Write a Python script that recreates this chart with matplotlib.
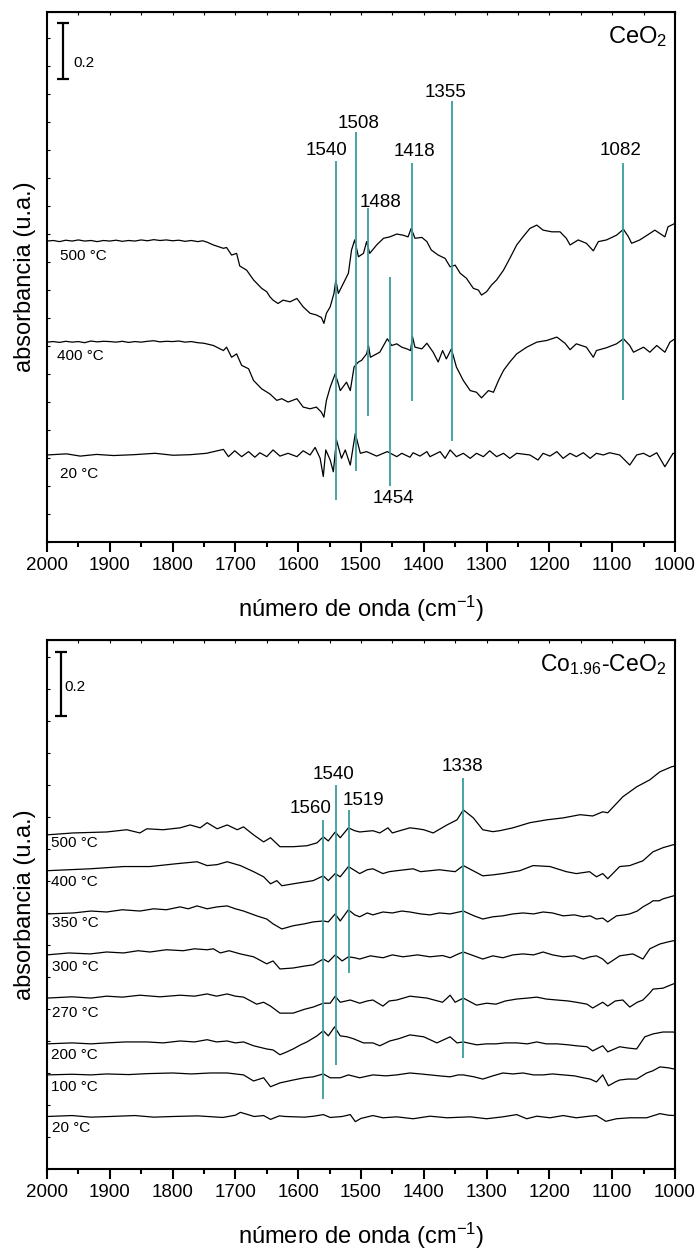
import numpy as np
import matplotlib
matplotlib.use("Agg")
import matplotlib.pyplot as plt
from matplotlib.ticker import MultipleLocator

plt.rcParams["font.family"] = ["Liberation Sans", "DejaVu Sans"]
plt.rcParams["mathtext.fontset"] = "custom"
plt.rcParams["mathtext.rm"] = "Liberation Sans"
plt.rcParams["mathtext.it"] = "Liberation Sans:italic"
plt.rcParams["mathtext.bf"] = "Liberation Sans:bold"

# ---------------------------------------------------------------- CeO2 spectra
# (wavenumber cm-1, absorbance relative to each trace's baseline)
ceo2_labels = ["500 °C", "400 °C", "20 °C"]
ceo2_offsets = [1.075, 0.714, 0.311]

ceo2_wn_500 = [2000, 1990, 1980, 1970, 1960, 1950, 1940, 1930, 1920, 1910, 1900, 1890, 1880, 1870,
               1860, 1850, 1840, 1830, 1820, 1810, 1800, 1790, 1780, 1770, 1760, 1752, 1745, 1735,
               1719, 1714, 1706, 1698, 1693, 1682, 1671, 1658, 1650, 1645, 1640, 1632, 1624, 1613,
               1602, 1592, 1581, 1571, 1563, 1559, 1555, 1549, 1543, 1540, 1536, 1528, 1520, 1515,
               1510, 1504, 1496, 1491, 1486, 1475, 1464, 1454, 1443, 1433, 1425, 1420, 1414, 1403,
               1395, 1388, 1377, 1366, 1358, 1350, 1342, 1332, 1321, 1313, 1308, 1300, 1292, 1284,
               1273, 1263, 1252, 1242, 1231, 1220, 1210, 1196, 1183, 1173, 1167, 1154, 1141, 1130,
               1122, 1109, 1093, 1082, 1074, 1069, 1056, 1040, 1032, 1024, 1016, 1011, 1000]
ceo2_ab_500 = [0.0, 0.002, -0.002, 0.003, 0.0, 0.004, 0.0, 0.002, -0.002, 0.002, 0.0, 0.003, -0.001, 0.002,
               0.0, 0.004, 0.001, 0.005, 0.002, 0.004, 0.001, 0.003, -0.001, 0.002, -0.002, 0.001, -0.004, -0.014,
               -0.026, -0.023, -0.050, -0.044, -0.089, -0.104, -0.139, -0.169, -0.181, -0.199, -0.211, -0.223, -0.211, -0.217,
               -0.205, -0.235, -0.258, -0.264, -0.273, -0.294, -0.258, -0.235, -0.187, -0.139, -0.187, -0.151, -0.115, -0.032,
               0.004, -0.056, -0.044, -0.002, -0.044, -0.014, 0.010, 0.015, 0.025, 0.021, 0.015, 0.045, 0.010, 0.013,
               -0.002, -0.032, -0.050, -0.062, -0.092, -0.086, -0.115, -0.133, -0.169, -0.175, -0.193, -0.181, -0.157, -0.139,
               -0.104, -0.062, -0.014, 0.015, 0.045, 0.057, 0.039, 0.033, 0.033, 0.010, -0.014, 0.004, -0.008, -0.035,
               -0.002, 0.004, 0.021, 0.042, 0.015, -0.008, 0.004, 0.027, 0.039, 0.027, 0.015, 0.051, 0.063]

ceo2_wn_400 = [2000, 1990, 1980, 1970, 1960, 1950, 1940, 1930, 1920, 1910, 1900, 1890, 1880, 1870,
               1860, 1850, 1840, 1830, 1820, 1810, 1800, 1790, 1780, 1770, 1760, 1750, 1735, 1719,
               1714, 1706, 1698, 1690, 1679, 1671, 1658, 1645, 1634, 1626, 1616, 1602, 1592, 1581,
               1571, 1563, 1559, 1555, 1549, 1541, 1536, 1533, 1523, 1517, 1511, 1504, 1499, 1491,
               1488, 1485, 1470, 1458, 1451, 1443, 1435, 1427, 1421, 1418, 1414, 1403, 1395, 1385,
               1377, 1370, 1364, 1356, 1348, 1337, 1326, 1316, 1308, 1297, 1289, 1281, 1273, 1263,
               1252, 1236, 1220, 1204, 1188, 1175, 1167, 1157, 1141, 1130, 1125, 1109, 1093, 1082,
               1072, 1066, 1050, 1040, 1029, 1016, 1008, 1000]
ceo2_ab_400 = [0.0, 0.002, -0.001, 0.003, 0.0, 0.002, -0.002, 0.004, 0.001, 0.003, 0.002, 0.0, 0.003, -0.001,
               0.002, 0.0, 0.003, 0.005, 0.001, 0.003, 0.002, 0.004, 0.0, 0.002, -0.002, -0.004, -0.012, -0.030,
               -0.018, -0.054, -0.042, -0.083, -0.095, -0.137, -0.167, -0.185, -0.208, -0.202, -0.214, -0.202, -0.232, -0.238,
               -0.232, -0.250, -0.268, -0.208, -0.161, -0.113, -0.149, -0.173, -0.143, -0.173, -0.089, -0.071, -0.065, -0.042,
               -0.012, -0.054, -0.036, 0.012, -0.012, -0.006, -0.018, -0.024, -0.030, 0.020, -0.018, -0.024, -0.004, -0.036,
               -0.071, -0.030, -0.060, -0.024, -0.089, -0.137, -0.173, -0.179, -0.199, -0.173, -0.179, -0.137, -0.101, -0.071,
               -0.042, -0.018, 0.0, 0.006, 0.018, -0.004, -0.027, -0.006, -0.018, -0.054, -0.030, -0.020, -0.006, 0.012,
               -0.012, -0.036, -0.018, -0.036, -0.012, -0.036, 0.0, 0.012]

ceo2_wn_20 = [2000, 1969, 1947, 1921, 1894, 1862, 1828, 1799, 1772, 1746, 1719, 1711, 1701, 1690,
              1679, 1669, 1661, 1650, 1640, 1629, 1616, 1602, 1592, 1581, 1573, 1565, 1560, 1556,
              1549, 1544, 1539, 1531, 1525, 1517, 1509, 1501, 1491, 1475, 1458, 1443, 1435, 1422,
              1417, 1406, 1395, 1390, 1374, 1366, 1358, 1348, 1337, 1326, 1316, 1305, 1295, 1284,
              1273, 1263, 1252, 1231, 1218, 1210, 1199, 1188, 1178, 1167, 1157, 1146, 1135, 1125,
              1114, 1104, 1088, 1072, 1061, 1050, 1040, 1029, 1016, 1003, 1000]
ceo2_ab_20 = [0.0, 0.004, -0.004, 0.002, -0.002, 0.001, 0.006, -0.001, 0.001, 0.006, 0.020, -0.006, 0.015, -0.006,
              0.012, -0.008, 0.008, -0.006, 0.018, -0.004, 0.006, -0.006, 0.015, 0.0, 0.027, -0.012, -0.077, 0.018,
              -0.018, -0.060, 0.054, -0.012, 0.018, -0.036, 0.077, 0.006, 0.012, -0.004, 0.012, -0.006, 0.006, -0.008,
              0.008, -0.004, 0.012, -0.006, 0.012, -0.012, 0.018, -0.006, 0.006, -0.012, 0.006, -0.006, 0.015, -0.006,
              0.006, -0.012, 0.006, 0.0, -0.018, 0.006, -0.004, 0.012, -0.012, 0.006, -0.006, 0.008, -0.012, 0.006,
              0.0, 0.008, 0.0, -0.036, 0.0, 0.006, -0.006, 0.008, -0.042, 0.006, 0.004]

ceo2_bands = [1540, 1508, 1488, 1418, 1355, 1082, 1454]
ceo2_band_lo = [0.149, 0.254, 0.450, 0.504, 0.361, 0.509, 0.201]
ceo2_band_hi = [1.362, 1.464, 1.193, 1.355, 1.575, 1.355, 0.946]

# ------------------------------------------------------------ Co1.96-CeO2 spectra
co_labels = ["500 °C", "400 °C", "350 °C", "300 °C", "270 °C", "200 °C", "100 °C", "20 °C"]
co_offsets = [1.044, 0.932, 0.797, 0.669, 0.534, 0.391, 0.294, 0.164]

co_wn_500 = [2000, 1958, 1905, 1873, 1852, 1841, 1815, 1788, 1772, 1756, 1745, 1729, 1713, 1697,
             1687, 1671, 1655, 1644, 1629, 1608, 1586, 1570, 1560, 1552, 1541, 1533, 1520, 1510,
             1502, 1492, 1481, 1470, 1457, 1450, 1438, 1422, 1410, 1400, 1385, 1363, 1347, 1337,
             1321, 1306, 1290, 1279, 1258, 1231, 1204, 1178, 1151, 1131, 1115, 1107, 1083, 1061,
             1040, 1024, 1005, 1000]
co_ab_500 = [0.0, 0.006, 0.009, 0.016, 0.006, 0.019, 0.016, 0.022, 0.031, 0.022, 0.038, 0.019, 0.031, 0.016,
             0.025, 0.0, -0.022, -0.009, -0.037, -0.037, -0.034, -0.025, -0.006, -0.019, 0.009, -0.009, 0.022, 0.013,
             0.009, 0.011, 0.013, 0.006, 0.022, 0.006, 0.013, 0.022, 0.019, 0.016, 0.006, 0.031, 0.047, 0.078,
             0.053, 0.016, 0.010, 0.013, 0.022, 0.038, 0.047, 0.053, 0.063, 0.059, 0.072, 0.069, 0.119, 0.150,
             0.172, 0.197, 0.213, 0.215]

co_wn_400 = [2000, 1931, 1878, 1836, 1793, 1761, 1745, 1729, 1713, 1692, 1671, 1655, 1644, 1634,
             1626, 1608, 1576, 1560, 1552, 1541, 1533, 1520, 1502, 1490, 1481, 1465, 1455, 1443,
             1430, 1417, 1405, 1390, 1375, 1363, 1350, 1337, 1306, 1290, 1274, 1247, 1226, 1199,
             1173, 1157, 1136, 1125, 1115, 1107, 1088, 1072, 1051, 1035, 1019, 1003, 1000]
co_ab_400 = [0.0, 0.006, 0.013, 0.013, 0.022, 0.028, 0.016, 0.019, 0.028, 0.016, -0.003, -0.019, -0.041, -0.031,
             -0.047, -0.041, -0.031, -0.016, -0.031, -0.009, -0.019, 0.013, -0.009, 0.003, 0.006, -0.009, -0.003, 0.0,
             0.003, 0.006, -0.003, 0.0, 0.003, 0.0, -0.003, 0.016, -0.016, -0.013, -0.009, 0.0, 0.016, 0.013,
             -0.003, -0.009, -0.003, -0.019, -0.009, -0.025, 0.013, 0.016, 0.031, 0.059, 0.072, 0.081, 0.082]

co_wn_350 = [2000, 1958, 1930, 1905, 1880, 1852, 1830, 1810, 1788, 1775, 1761, 1745, 1729, 1713,
             1700, 1687, 1666, 1650, 1640, 1626, 1608, 1590, 1576, 1560, 1552, 1541, 1533, 1520,
             1510, 1502, 1490, 1481, 1465, 1450, 1435, 1422, 1405, 1390, 1375, 1358, 1337, 1320,
             1306, 1290, 1274, 1258, 1242, 1225, 1210, 1195, 1178, 1160, 1146, 1135, 1125, 1115,
             1107, 1093, 1080, 1072, 1060, 1051, 1040, 1035, 1025, 1019, 1003, 1000]
co_ab_350 = [0.0, 0.003, 0.009, 0.006, 0.013, 0.009, 0.016, 0.013, 0.022, 0.016, 0.025, 0.016, 0.022, 0.025,
             0.016, 0.009, -0.006, -0.016, -0.031, -0.047, -0.037, -0.031, -0.025, -0.022, -0.025, 0.0, -0.022, 0.013,
             -0.003, -0.009, 0.003, -0.003, 0.006, 0.003, 0.009, 0.006, 0.0, -0.003, 0.003, 0.0, 0.009, -0.006,
             -0.016, -0.009, -0.006, 0.0, 0.003, 0.0, 0.006, 0.003, -0.006, -0.003, -0.009, -0.006, -0.016, -0.013,
             -0.025, -0.006, -0.003, 0.0, 0.009, 0.022, 0.034, 0.041, 0.041, 0.047, 0.056, 0.057]

co_wn_300 = [2000, 1965, 1931, 1905, 1878, 1855, 1836, 1810, 1783, 1765, 1745, 1735, 1724, 1710,
             1692, 1671, 1650, 1640, 1629, 1608, 1590, 1576, 1560, 1552, 1541, 1530, 1520, 1510,
             1502, 1485, 1465, 1450, 1433, 1410, 1390, 1370, 1358, 1345, 1337, 1320, 1306, 1290,
             1274, 1258, 1242, 1225, 1210, 1195, 1178, 1160, 1146, 1135, 1125, 1115, 1107, 1088,
             1067, 1051, 1040, 1024, 1010, 1003, 1000]
co_ab_300 = [0.0, 0.006, 0.003, 0.009, 0.006, 0.013, 0.009, 0.016, 0.013, 0.019, 0.016, 0.019, 0.006, 0.013,
             0.003, -0.006, -0.028, -0.019, -0.044, -0.041, -0.035, -0.031, -0.013, -0.022, 0.0, -0.019, -0.006, -0.009,
             -0.013, -0.003, -0.009, 0.0, -0.006, 0.0, -0.006, -0.002, -0.009, 0.003, 0.009, -0.003, -0.013, -0.003,
             -0.009, 0.0, 0.003, 0.0, 0.009, 0.0, -0.006, -0.003, -0.013, -0.006, -0.003, -0.013, -0.028, -0.003,
             0.003, -0.013, 0.019, 0.034, 0.041, 0.044, 0.045]

co_wn_270 = [2000, 1960, 1930, 1905, 1880, 1852, 1820, 1788, 1765, 1745, 1730, 1713, 1700, 1687,
             1666, 1655, 1644, 1629, 1608, 1590, 1576, 1560, 1549, 1541, 1533, 1517, 1502, 1490,
             1481, 1465, 1455, 1443, 1422, 1395, 1370, 1358, 1350, 1337, 1316, 1300, 1285, 1270,
             1252, 1235, 1220, 1205, 1188, 1170, 1157, 1140, 1131, 1115, 1107, 1095, 1083, 1072,
             1060, 1051, 1040, 1035, 1019, 1003, 1000]
co_ab_270 = [0.0, 0.004, 0.0, 0.006, 0.003, 0.009, 0.004, 0.009, 0.006, 0.013, 0.006, 0.013, 0.006, 0.003,
             -0.019, -0.013, -0.025, -0.047, -0.047, -0.035, -0.028, -0.016, -0.016, 0.006, -0.013, -0.006, -0.016, -0.009,
             -0.006, -0.025, -0.009, -0.006, 0.006, 0.0, -0.013, 0.009, -0.013, 0.0, -0.022, -0.016, -0.019, -0.009,
             -0.003, 0.0, 0.003, -0.003, -0.006, -0.009, -0.013, -0.019, -0.031, -0.013, -0.025, -0.009, -0.006, -0.028,
             -0.013, -0.006, 0.016, 0.028, 0.031, 0.044, 0.045]

co_wn_200 = [2000, 1960, 1930, 1905, 1875, 1841, 1815, 1788, 1765, 1745, 1730, 1713, 1700, 1687,
             1671, 1650, 1640, 1629, 1618, 1608, 1596, 1586, 1570, 1560, 1552, 1542, 1533, 1522,
             1512, 1496, 1481, 1470, 1454, 1440, 1422, 1400, 1379, 1358, 1347, 1337, 1316, 1300,
             1285, 1270, 1252, 1235, 1220, 1205, 1188, 1170, 1157, 1140, 1131, 1115, 1107, 1088,
             1075, 1061, 1048, 1035, 1019, 1003, 1000]
co_ab_200 = [0.0, 0.003, 0.0, 0.003, 0.006, 0.006, 0.003, 0.009, 0.006, 0.013, 0.006, 0.009, 0.003, 0.006,
             -0.006, -0.016, -0.019, -0.034, -0.025, -0.016, -0.003, 0.006, 0.025, 0.041, 0.025, 0.053, 0.025, 0.022,
             0.016, 0.003, 0.003, -0.006, 0.009, 0.016, 0.028, 0.022, 0.003, 0.022, 0.003, 0.006, -0.003, 0.0,
             0.0, 0.003, 0.003, 0.0, 0.006, 0.0, 0.0, -0.003, -0.006, -0.009, -0.022, -0.006, -0.025, -0.009,
             -0.013, -0.016, 0.022, 0.031, 0.037, 0.037, 0.036]

co_wn_100 = [2000, 1960, 1930, 1905, 1870, 1840, 1800, 1770, 1740, 1713, 1700, 1687, 1671, 1655,
             1644, 1629, 1608, 1590, 1576, 1560, 1549, 1533, 1520, 1502, 1481, 1460, 1443, 1422,
             1405, 1390, 1375, 1358, 1345, 1337, 1320, 1306, 1290, 1274, 1258, 1242, 1225, 1210,
             1195, 1178, 1160, 1146, 1135, 1125, 1115, 1106, 1095, 1088, 1075, 1061, 1045, 1035,
             1024, 1010, 1003, 1000]
co_ab_100 = [0.0, 0.002, 0.0, 0.003, 0.001, 0.004, 0.006, 0.003, 0.006, 0.006, 0.003, 0.0, -0.019, -0.009,
             -0.037, -0.025, -0.016, -0.009, -0.006, 0.003, -0.009, -0.009, 0.0, -0.009, 0.0, -0.003, 0.0, 0.006,
             0.003, 0.0, -0.003, -0.006, 0.0, 0.0, -0.006, -0.013, -0.003, 0.006, 0.003, 0.006, 0.0, 0.0,
             0.003, 0.0, -0.003, -0.009, -0.013, -0.022, 0.0, -0.034, -0.022, -0.016, -0.013, -0.013, 0.006, 0.013,
             0.025, 0.022, 0.019, 0.019]

co_wn_20 = [2000, 1960, 1930, 1900, 1860, 1830, 1800, 1760, 1720, 1700, 1692, 1680, 1670, 1655,
            1644, 1630, 1620, 1590, 1575, 1560, 1549, 1530, 1517, 1509, 1500, 1481, 1465, 1443,
            1417, 1390, 1363, 1326, 1300, 1274, 1252, 1236, 1220, 1199, 1178, 1157, 1136, 1125,
            1110, 1093, 1072, 1045, 1024, 1010, 1000]
co_ab_20 = [0.0, 0.003, -0.002, 0.0, 0.003, -0.002, 0.0, 0.002, -0.003, 0.004, 0.013, 0.006, 0.0, 0.003,
            -0.009, 0.002, 0.0, -0.002, 0.001, 0.006, -0.003, 0.0, 0.006, -0.016, -0.006, 0.003, -0.004, -0.001,
            -0.007, 0.001, -0.004, -0.001, -0.007, -0.001, 0.006, -0.007, 0.001, -0.004, 0.003, -0.004, 0.001, 0.003,
            -0.015, -0.007, -0.004, -0.004, 0.009, 0.004, 0.003]

co_bands = [1560, 1540, 1519, 1338]
co_band_lo = [0.219, 0.325, 0.6125, 0.347]
co_band_hi = [1.091, 1.200, 1.122, 1.222]

# ------------------------------------------------------------------ layout
ceo2_label_xy = [(1979, 1.021), (1984, 0.664), (1979, 0.243)]
co_label_xy = [(1994, 1.019), (1994, 0.897), (1992, 0.769), (1992, 0.631),
               (1992, 0.4875), (1994, 0.356), (1994, 0.256), (1992, 0.128)]
ceo2_band_text_xy = [(1555, 1.400), (1504, 1.494), (1469, 1.214), (1415, 1.395),
                     (1365, 1.607), (1086, 1.400), (1448, 0.154)]
co_band_text_xy = [(1581, 1.125), (1543, 1.234), (1496, 1.151), (1338, 1.2575)]

STICK = "#3a9d9d"


def style_axes(ax, ymax):
    ax.set_xlim(2000, 1000)
    ax.set_ylim(0, ymax)
    for s in ax.spines.values():
        s.set_linewidth(1.5)
    ax.xaxis.set_major_locator(MultipleLocator(100))
    ax.xaxis.set_minor_locator(MultipleLocator(50))
    ax.tick_params(axis="x", which="major", direction="out", length=7, width=1.5,
                   labelsize=13.5, pad=4)
    ax.tick_params(axis="x", which="minor", direction="out", length=3.5, width=1.5)
    ax.yaxis.set_major_locator(MultipleLocator(0.1))
    ax.tick_params(axis="y", which="both", direction="in", length=2.5, width=0.8,
                   labelleft=False)
    top = ax.secondary_xaxis("top")
    top.xaxis.set_major_locator(MultipleLocator(50))
    top.tick_params(axis="x", direction="in", length=2.5, width=0.8, labeltop=False)
    ax.set_xlabel("número de onda (cm$^{\\mathregular{-1}}$)", fontsize=17)
    ax.xaxis.set_label_coords(0.5, -0.098)
    ax.set_ylabel("absorbancia (u.a.)", fontsize=17)
    ax.yaxis.set_label_coords(-0.018, 0.5)


def draw_traces(ax, wns, abss, offsets, labels, label_xy):
    for wn, ab, off, lab, (lx, ly) in zip(wns, abss, offsets, labels, label_xy):
        wn = np.asarray(wn, float)
        ab = np.asarray(ab, float)
        ax.plot(wn, ab + off, color="black", lw=0.9, zorder=2)
        ax.text(lx, ly, lab, fontsize=11, ha="left", va="center", zorder=4)


def draw_bands(ax, bands, lo, hi, text_xy):
    for b, y0, y1, (tx, ty) in zip(bands, lo, hi, text_xy):
        ax.vlines(b, y0, y1, color=STICK, lw=1.3, zorder=3)
        ax.text(tx, ty, str(b), fontsize=13.5, ha="center", va="center", zorder=4)


def scale_bar(ax, x, y0, y1, tx, ty):
    ax.errorbar([x], [(y0 + y1) / 2], yerr=[(y1 - y0) / 2], color="black",
                elinewidth=1.6, capsize=4, capthick=1.6, fmt="none", zorder=4)
    ax.text(tx, ty, "0.2", fontsize=11, ha="left", va="center")


fig = plt.figure(figsize=(7.0, 12.51), dpi=100)
ax1 = fig.add_axes([0.0671, 0.5667, 0.8971, 0.4237])
ax2 = fig.add_axes([0.0671, 0.06555, 0.8971, 0.4229])

# CeO2 panel
style_axes(ax1, 1.893)
draw_traces(ax1, [ceo2_wn_500, ceo2_wn_400, ceo2_wn_20],
            [ceo2_ab_500, ceo2_ab_400, ceo2_ab_20],
            ceo2_offsets, ceo2_labels, ceo2_label_xy)
draw_bands(ax1, ceo2_bands, ceo2_band_lo, ceo2_band_hi, ceo2_band_text_xy)
scale_bar(ax1, 1974, 1.655, 1.855, 1958, 1.711)
ax1.text(0.987, 0.9415, "CeO$_\\mathregular{2}$", transform=ax1.transAxes,
         fontsize=17, ha="right", va="baseline")

# Co1.96-CeO2 panel
style_axes(ax2, 1.653)
draw_traces(ax2, [co_wn_500, co_wn_400, co_wn_350, co_wn_300, co_wn_270, co_wn_200, co_wn_100, co_wn_20],
            [co_ab_500, co_ab_400, co_ab_350, co_ab_300, co_ab_270, co_ab_200, co_ab_100, co_ab_20],
            co_offsets, co_labels, co_label_xy)
draw_bands(ax2, co_bands, co_band_lo, co_band_hi, co_band_text_xy)
scale_bar(ax2, 1978, 1.416, 1.616, 1973, 1.506)
ax2.text(0.986, 0.9414, "Co$_\\mathregular{1.96}$-CeO$_\\mathregular{2}$", transform=ax2.transAxes,
         fontsize=16.5, ha="right", va="baseline")

fig.savefig("out.png", dpi=100)
